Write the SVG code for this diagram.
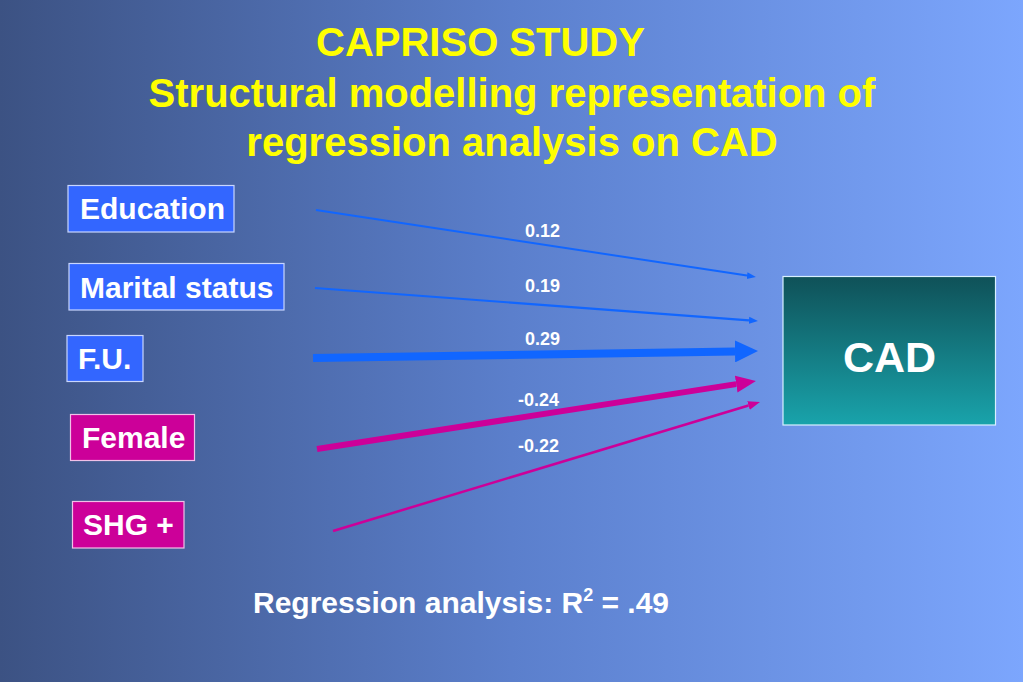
<svg xmlns="http://www.w3.org/2000/svg" width="1023" height="682" viewBox="0 0 1023 682">
  <defs>
    <linearGradient id="bg" x1="0" y1="0" x2="1" y2="0">
      <stop offset="0" stop-color="#3c5283"/>
      <stop offset="0.5" stop-color="#5b7fcc"/>
      <stop offset="1" stop-color="#7ca6fd"/>
    </linearGradient>
    <linearGradient id="cadfill" x1="0" y1="0" x2="0" y2="1">
      <stop offset="0" stop-color="#0f5158"/>
      <stop offset="1" stop-color="#19a3ab"/>
    </linearGradient>
    <marker id="hThinBlue" markerUnits="userSpaceOnUse" viewBox="0 -4 9 8" markerWidth="9" markerHeight="8" refX="0" refY="0" orient="auto">
      <path d="M0,-3.5 L9,0 L0,3.5 z" fill="#1166ff"/>
    </marker>
    <marker id="hThickBlue" markerUnits="userSpaceOnUse" viewBox="0 -11 23 22" markerWidth="23" markerHeight="22" refX="0" refY="0" orient="auto">
      <path d="M0,-11 L23,0 L0,11 z" fill="#1166ff"/>
    </marker>
    <marker id="hThinMag" markerUnits="userSpaceOnUse" viewBox="0 -5 12 10" markerWidth="12" markerHeight="10" refX="0" refY="0" orient="auto">
      <path d="M0,-4.5 L12,0 L0,4.5 z" fill="#cc0099"/>
    </marker>
    <marker id="hThickMag" markerUnits="userSpaceOnUse" viewBox="0 -9 20 18" markerWidth="20" markerHeight="18" refX="0" refY="0" orient="auto">
      <path d="M0,-8.5 L20,0 L0,8.5 z" fill="#cc0099"/>
    </marker>
  </defs>
  <style>
    text { font-family: "Liberation Sans", Arial, sans-serif; font-weight: bold; }
    .title { fill: #ffff00; font-size: 40px; }
    .lbl { fill: #ffffff; font-size: 30px; }
    .coef { fill: #ffffff; font-size: 18px; }
    .bluebox { fill: #3366ff; stroke: #c8d6ff; stroke-width: 1.2; }
    .magbox { fill: #cc0099; stroke: #f0c0e8; stroke-width: 1.2; }
    .blue { stroke: #1166ff; fill: none; stroke-linecap: butt; }
    .mag { stroke: #cc0099; fill: none; stroke-linecap: butt; }
  </style>
  <rect width="1023" height="682" fill="url(#bg)"/>

  <g id="title">
    <text class="title" x="316" y="56">CAPRISO STUDY</text>
    <text class="title" x="512" y="107" text-anchor="middle">Structural modelling representation of</text>
    <text class="title" x="512" y="156" text-anchor="middle">regression analysis on CAD</text>
  </g>

  <g id="connectors">
    <line class="blue" x1="316" y1="210" x2="747" y2="275.6" stroke-width="2" marker-end="url(#hThinBlue)"/>
    <line class="blue" x1="315" y1="288" x2="749" y2="320.3" stroke-width="2.2" marker-end="url(#hThinBlue)"/>
    <line class="blue" x1="313" y1="358" x2="735" y2="351.4" stroke-width="8" marker-end="url(#hThickBlue)"/>
    <line class="mag" x1="317" y1="449" x2="736.2" y2="384.1" stroke-width="6" marker-end="url(#hThickMag)"/>
    <line class="mag" x1="333" y1="531" x2="748.5" y2="405.5" stroke-width="2.5" marker-end="url(#hThinMag)"/>
    <text class="coef" x="525" y="237">0.12</text>
    <text class="coef" x="525" y="292">0.19</text>
    <text class="coef" x="525" y="345">0.29</text>
    <text class="coef" x="518" y="406">-0.24</text>
    <text class="coef" x="518" y="452">-0.22</text>
  </g>

  <g id="node-education">
    <rect class="bluebox" x="68" y="185.5" width="166" height="46.5"/>
    <text class="lbl" x="80" y="219">Education</text>
  </g>
  <g id="node-marital">
    <rect class="bluebox" x="69" y="263.5" width="215" height="46.5"/>
    <text class="lbl" x="80" y="298">Marital status</text>
  </g>
  <g id="node-fu">
    <rect class="bluebox" x="67" y="335.5" width="76" height="46"/>
    <text class="lbl" x="78" y="369">F.U.</text>
  </g>
  <g id="node-female">
    <rect class="magbox" x="70.5" y="414.5" width="124" height="46"/>
    <text class="lbl" x="82" y="448">Female</text>
  </g>
  <g id="node-shg">
    <rect class="magbox" x="72.5" y="501.5" width="111.5" height="46.5"/>
    <text class="lbl" x="83" y="535">SHG +</text>
  </g>
  <g id="node-cad">
    <rect x="783" y="276.5" width="212.5" height="148.5" fill="url(#cadfill)" stroke="#d8f0ff" stroke-width="1.2"/>
    <text x="889.5" y="372" text-anchor="middle" fill="#ffffff" font-size="43">CAD</text>
  </g>

  <g id="footer">
    <text class="lbl" x="253" y="613">Regression analysis: R<tspan font-size="18" dy="-12">2</tspan><tspan dy="12"> = .49</tspan></text>
  </g>
</svg>
